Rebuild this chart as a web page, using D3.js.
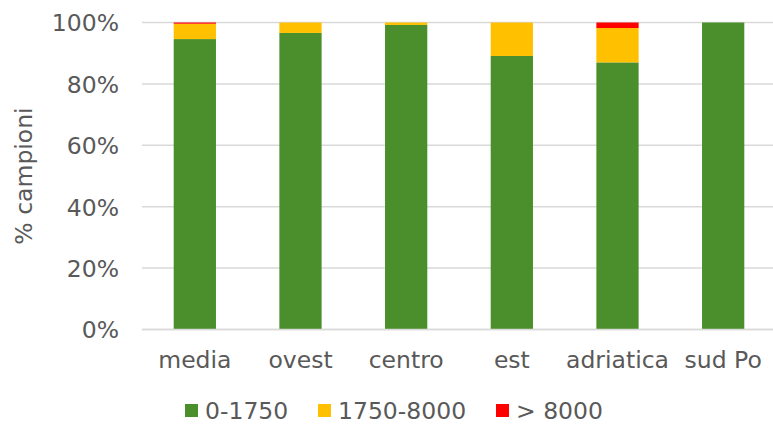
<!DOCTYPE html>
<html>
<head>
<meta charset="utf-8">
<script src="https://cdn.jsdelivr.net/npm/d3@7"></script>
<style>
  body { margin: 0; background: #fff; }
  text { font-family: "DejaVu Sans", Verdana, sans-serif; fill: #595959; }
</style>
</head>
<body>
<svg id="chart" width="773" height="428"></svg>
<script>
  // data (% of samples)
  var categories = ['media', 'ovest', 'centro', 'est', 'adriatica', 'sud Po'];
  var seriesNames = ['0-1750', '1750-8000', '> 8000'];
  var low = [94.6, 96.6, 99.2, 89.1, 87.0, 100];
  var mid = [5.0, 3.4, 0.8, 10.9, 11.2, 0];
  var high = [0.4, 0, 0, 0, 1.8, 0];
  var yTicks = [0, 20, 40, 60, 80, 100];
  var colors = ['#4a8f2b', '#ffc000', '#ff0000'];

  var fontSize = '23.5px';
  var area = { left: 142, right: 776, top: 22.5, bottom: 329.5 };

  var svg = d3.select('#chart');

  var rows = categories.map(function(c, i) {
    return { cat: c, s0: low[i], s1: mid[i], s2: high[i] };
  });
  var stacked = d3.stack().keys(['s0', 's1', 's2'])(rows);

  var x = d3.scaleBand()
    .domain(categories)
    .range([area.left, area.right])
    .paddingInner(0.6)
    .paddingOuter(0.3);

  var y = d3.scaleLinear()
    .domain([0, 100])
    .range([area.bottom, area.top]);

  // grid
  svg.append('g')
    .selectAll('line')
    .data(yTicks)
    .enter().append('line')
      .attr('x1', area.left)
      .attr('x2', 773)
      .attr('y1', function(d) { return y(d); })
      .attr('y2', function(d) { return y(d); })
      .attr('stroke', '#d9d9d9')
      .attr('stroke-width', 1.5);

  // y tick labels
  var yAxis = d3.axisLeft(y)
    .tickValues(yTicks)
    .tickSize(0)
    .tickPadding(0)
    .tickFormat(function(d) { return d + '%'; });

  var gy = svg.append('g')
    .attr('transform', 'translate(119,0)')
    .call(yAxis);
  gy.select('.domain').remove();
  gy.selectAll('text')
    .attr('fill', '#595959')
    .style('font-size', fontSize)
    .attr('dy', '0.36em');

  // bars
  svg.append('g')
    .selectAll('g')
    .data(stacked)
    .enter().append('g')
      .attr('fill', function(d, i) { return colors[i]; })
    .selectAll('rect')
    .data(function(d) { return d; })
    .enter().append('rect')
      .attr('x', function(d) { return x(d.data.cat); })
      .attr('width', x.bandwidth())
      .attr('y', function(d) { return y(d[1]); })
      .attr('height', function(d) { return y(d[0]) - y(d[1]); });

  // baseline
  svg.append('line')
    .attr('x1', area.left).attr('x2', 773)
    .attr('y1', area.bottom).attr('y2', area.bottom)
    .attr('stroke', '#d9d9d9')
    .attr('stroke-width', 1.5);

  // x labels
  var xAxis = d3.axisBottom(x).tickSize(0).tickPadding(0);
  var gx = svg.append('g')
    .attr('transform', 'translate(0,' + (area.bottom + 30) + ')')
    .call(xAxis);
  gx.select('.domain').remove();
  gx.selectAll('text')
    .attr('fill', '#595959')
    .style('font-size', fontSize)
    .attr('dy', '0.36em');

  // y title
  svg.append('text')
    .attr('transform', 'translate(32,176) rotate(-90)')
    .attr('text-anchor', 'middle')
    .style('font-size', fontSize)
    .text('% campioni');

  // legend
  var legendX = [185, 318, 496];
  var legend = svg.append('g')
    .selectAll('g')
    .data(seriesNames)
    .enter().append('g')
      .attr('transform', function(d, i) { return 'translate(' + legendX[i] + ',411)'; });
  legend.append('rect')
    .attr('x', 0).attr('y', -7)
    .attr('width', 13).attr('height', 13)
    .attr('fill', function(d, i) { return colors[i]; });
  legend.append('text')
    .attr('x', 20)
    .attr('dy', '0.36em')
    .style('font-size', fontSize)
    .text(function(d) { return d; });
</script>
</body>
</html>
